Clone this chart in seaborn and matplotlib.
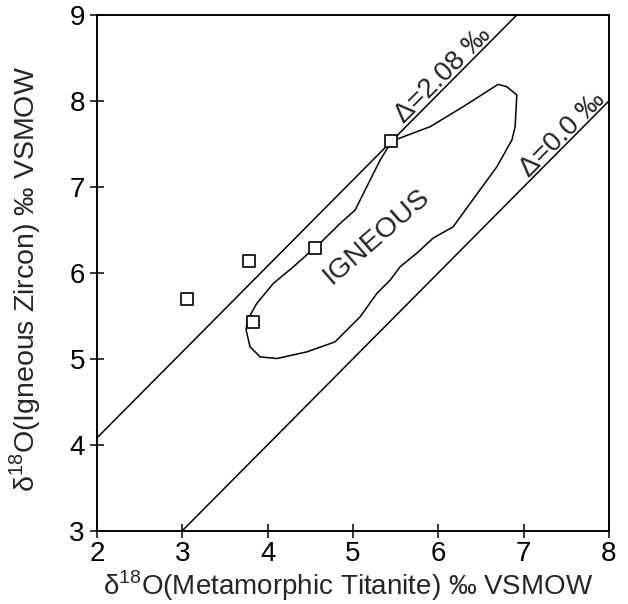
import numpy as np
import pandas as pd
import matplotlib.pyplot as plt
import seaborn as sns

# sample pairs (titanite, zircon)
titanite = [3.05, 3.78, 3.83, 4.56, 5.45]
zircon = [5.69, 6.14, 5.43, 6.29, 7.53]

# igneous field outline, traced by hand
field_x = [5.455, 5.904, 6.291, 6.701, 6.803, 6.920, 6.900, 6.862, 6.686, 6.373,
           6.174, 5.939, 5.748, 5.552, 5.435, 5.279, 5.083, 4.790, 4.458, 4.107,
           3.911, 3.794, 3.747, 3.762, 3.872, 4.067, 4.301, 4.477, 4.556, 4.849,
           5.025, 5.142, 5.318, 5.455]
field_y = [7.533, 7.700, 7.933, 8.193, 8.165, 8.069, 7.700, 7.545, 7.234, 6.808,
           6.536, 6.404, 6.229, 6.070, 5.915, 5.760, 5.488, 5.197, 5.080, 5.003,
           5.022, 5.139, 5.333, 5.449, 5.644, 5.877, 6.070, 6.226, 6.288, 6.575,
           6.730, 6.963, 7.312, 7.533]

# fractionation lines  zircon = titanite + delta
deltas = [2.08, 0.0]
delta_labels = ['\u0394=2.08 \u2030', '\u0394=0.0 \u2030']

sns.set_theme(style='ticks')
plt.rcParams['font.family'] = ['Liberation Sans', 'DejaVu Sans']
plt.rcParams['mathtext.fontset'] = 'custom'
plt.rcParams['mathtext.rm'] = 'Liberation Sans'

fig = plt.figure(figsize=(6.28, 6.04), dpi=100)
ax = fig.add_axes([0.1545, 0.1214, 0.8152, 0.8538])

for d in deltas:
    ax.axline((0, d), slope=1, color='black', linewidth=1.1)

field = pd.DataFrame({'x': field_x, 'y': field_y})
sns.lineplot(data=field, x='x', y='y', sort=False, estimator=None,
             color='black', linewidth=1.1, ax=ax)

sns.scatterplot(x=titanite, y=zircon, marker='s', s=85, facecolor='white',
                edgecolor='black', linewidth=1.2, zorder=5, ax=ax)

ax.text(6.06, 8.30, delta_labels[0], rotation=45, fontsize=20,
        ha='center', va='center')
ax.text(7.46, 7.61, delta_labels[1], rotation=45, fontsize=20,
        ha='center', va='center')
ax.text(5.28, 6.42, 'IGNEOUS', rotation=41, fontsize=20.5,
        ha='center', va='center')

ax.set_xlim(2, 8)
ax.set_ylim(3, 9)
ax.set_xticks(range(2, 9))
ax.set_yticks(range(3, 10))
ax.tick_params(direction='inout', length=9.5, width=1.1, labelsize=20,
               color='black', labelcolor='black', pad=4)
ax.tick_params(axis='x', pad=3)
for sp in ax.spines.values():
    sp.set_linewidth(1.4)
    sp.set_color('black')

ax.set_xlabel('\u03b4$^{\\mathregular{18}}$O(Metamorphic Titanite) \u2030 VSMOW',
              fontsize=20)
ax.set_ylabel('\u03b4$^{\\mathregular{18}}$O(Igneous Zircon) \u2030 VSMOW',
              fontsize=20.5)
ax.xaxis.set_label_coords(0.49, -0.074)
ax.yaxis.set_label_coords(-0.105, 0.488)

plt.savefig('out.png', dpi=100)
